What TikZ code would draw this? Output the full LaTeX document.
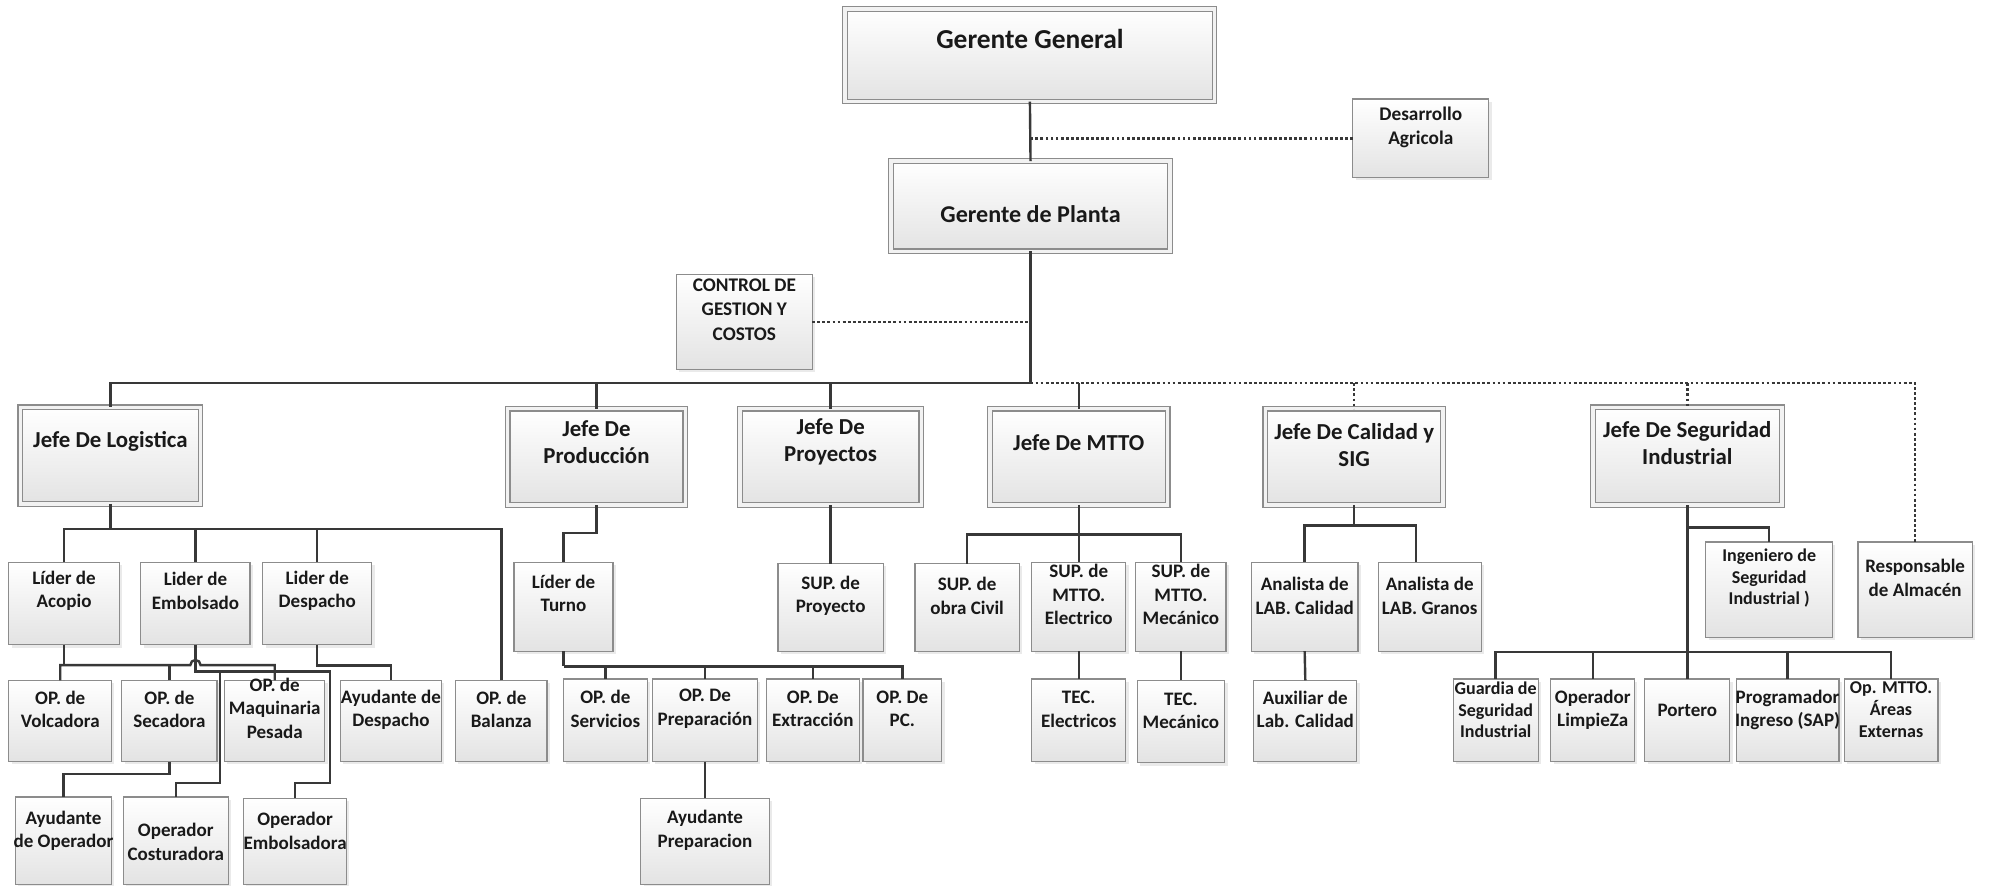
\documentclass[tikz,border=0pt]{standalone}
\usepackage{fontspec}
\setmainfont{Carlito}
\usetikzlibrary{shadows,calc,fit}
\newcommand{\obox}[9]{%
  \node[#1, fit={(#4,#5)(#6,#7)}] (#3) {};
  \pgfmathsetmacro{\cxx}{(#4+#6)/2}
  \node[lbl,#2] (#3-t) at (\cxx,#8) {#9};
}
\begin{document}
\begin{tikzpicture}[x=0.5pt,y=-0.5pt,
  sbox/.style={draw=black!45, line width=0.45pt, top color=white, bottom color=black!11,
    inner sep=0pt, outer sep=0pt,
    drop shadow={shadow xshift=1.1pt, shadow yshift=-1.1pt, fill=black!16}},
  dbox/.style={sbox, double=black!5, double distance=1.4pt},
  lbl/.style={font=\bfseries\fontsize{7.5}{9.3}\selectfont, align=center, inner sep=0pt, text=black!90},
  fj/.style={font=\bfseries\fontsize{9}{10.6}\selectfont},
  fc/.style={font=\bfseries\fontsize{7.6}{9.5}\selectfont},
  fs/.style={font=\bfseries\fontsize{7.1}{8.6}\selectfont},
  conn/.style={draw=black!78, line width=0.95pt},
  dotl/.style={draw=black!78, line width=0.95pt, dash pattern=on 1.1pt off 0.9pt}]
\fill[white] (0,0) rectangle (1568,698);
\useasboundingbox (0,0) rectangle (1568,698);

% top level
\obox{dbox}{font=\bfseries\fontsize{10.8}{13}\selectfont}{gg}{666}{7}{957}{80}{31}{Gerente General}
\obox{sbox}{fc}{des}{1066}{78}{1173}{140}{100}{Desarrollo\\Agricola}
\obox{dbox}{font=\bfseries\fontsize{9.5}{11.3}\selectfont}{gp}{702}{127}{922}{198}{169}{Gerente de Planta}
\obox{sbox}{fc}{ctl}{533}{216}{640}{291}{244}{CONTROL DE\\GESTION Y\\COSTOS}

% jefes
\obox{dbox}{fj}{jl}{16}{321}{158}{397}{348}{Jefe De Logistica}
\obox{dbox}{fj}{jp}{400}{322}{540}{398}{348.5}{Jefe De\\Producción}
\obox{dbox}{fj}{jproy}{583}{322}{726}{398}{348.5}{Jefe De\\Proyectos}
\obox{dbox}{fj}{jmtto}{780}{322}{920}{398}{349}{Jefe De MTTO}
\obox{dbox}{fj}{jcal}{997}{322}{1137}{398}{351}{Jefe De Calidad y\\SIG}
\obox{dbox}{fj}{jseg}{1255}{321}{1404}{398}{349.3}{Jefe De Seguridad\\Industrial}

% logistica
\obox{sbox}{}{acop}{7}{443}{94}{508}{465.5}{Líder de\\Acopio}
\obox{sbox}{}{emb}{111}{443}{197}{508}{465.5}{Lider de\\Embolsado}
\obox{sbox}{}{desp}{207}{443}{293}{508}{465.5}{Lider de\\Despacho}
\obox{sbox}{}{volc}{7}{536}{88}{600}{558.8}{OP. de\\Volcadora}
\obox{sbox}{}{sec}{96}{536}{171}{600}{558.8}{OP. de\\Secadora}
\obox{sbox}{}{maq}{177}{536}{256}{600}{558}{OP. de\\Maquinaria\\Pesada}
\obox{sbox}{}{aydesp}{268}{536}{348}{600}{559.4}{Ayudante de\\Despacho}
\obox{sbox}{}{bal}{359}{536}{431}{600}{559}{OP. de\\Balanza}
\obox{sbox}{}{ayop}{12}{628}{88}{697}{654.5}{Ayudante\\de Operador}
\obox{sbox}{}{cost}{97}{628}{180}{697}{663.5}{Operador\\Costuradora}
\obox{sbox}{}{embo}{192}{629}{273}{697}{654.5}{Operador\\Embolsadora}

% produccion
\obox{sbox}{}{turno}{405}{443}{483}{513}{467.5}{Líder de\\Turno}
\obox{sbox}{}{serv}{444}{535}{510}{600}{558.5}{OP. de\\Servicios}
\obox{sbox}{}{prep}{514}{535}{597}{600}{558.5}{OP. De\\Preparación}
\obox{sbox}{}{extr}{604}{535}{677}{600}{558.5}{OP. De\\Extracción}
\obox{sbox}{}{pc}{680}{535}{742}{600}{558.5}{OP. De\\PC.}
\obox{sbox}{}{ayprep}{505}{629}{606}{697}{654}{Ayudante\\Preparacion}

% proyectos
\obox{sbox}{}{supproy}{613}{444}{696}{513}{469.5}{SUP. de\\Proyecto}

% mtto
\obox{sbox}{}{civil}{721}{444}{803}{513}{469.5}{SUP. de\\obra Civil}
\obox{sbox}{}{elec}{813}{443}{887}{513}{468.5}{SUP. de\\MTTO.\\Electrico}
\obox{sbox}{}{mec}{895}{443}{966}{513}{468.5}{SUP. de\\MTTO.\\Mecánico}
\obox{sbox}{}{tecel}{813}{535}{887}{600}{559}{TEC.\\Electricos}
\obox{sbox}{}{tecmec}{896}{536}{965}{601}{560}{TEC.\\Mecánico}

% calidad
\obox{sbox}{}{anacal}{986}{443}{1070}{513}{469.5}{Analista de\\LAB. Calidad}
\obox{sbox}{}{anagr}{1086}{443}{1167}{513}{469.5}{Analista de\\LAB. Granos}
\obox{sbox}{}{aux}{988}{536}{1069}{600}{559}{Auxiliar de\\Lab. Calidad}

% seguridad
\obox{sbox}{fs}{ing}{1344}{427}{1444}{502}{455.5}{Ingeniero de\\Seguridad\\Industrial )}
\obox{sbox}{}{resp}{1464}{427}{1554}{502}{455.3}{Responsable\\de Almacén}
\obox{sbox}{fs}{guard}{1145}{535}{1212}{600}{559.3}{Guardia de\\Seguridad\\Industrial}
\obox{sbox}{}{limp}{1222}{535}{1288}{600}{559.3}{Operador\\LimpieZa}
\obox{sbox}{}{port}{1296}{535}{1363}{600}{559.5}{Portero}
\obox{sbox}{}{prog}{1368}{535}{1449}{600}{559.3}{Programador\\Ingreso (SAP)}
\obox{sbox}{fs}{opm}{1453}{535}{1527}{600}{559.3}{Op. MTTO.\\Áreas\\Externas}

% ---------- connectors ----------
\coordinate (mb) at (812,302);
\draw[conn] (gg.south) -- (gp.north);
\draw[dotl] (des.west) -- (des.west -| gg.south);
\draw[conn] (gp.south) -- (mb);
\draw[dotl] (ctl.east) -- (ctl.east -| mb);
\draw[conn] (mb) -| (jl.north);
\draw[conn] (mb) -| (jp.north);
\draw[conn] (mb) -| (jproy.north);
\draw[conn] (jmtto.north |- mb) -- (jmtto.north);
\draw[dotl] (mb) -| (resp.north);
\draw[dotl] (jcal.north |- mb) -- (jcal.north);
\draw[dotl] (jseg.north |- mb) -- (jseg.north);

% logistica
\coordinate (lb) at (87,417);
\draw[conn] (jl.south) -- (lb);
\draw[conn] (acop.north) |- (lb);
\draw[conn] (emb.north) |- (lb);
\draw[conn] (desp.north) |- (lb);
\draw[conn] (bal.north) |- (lb);
\coordinate (hopA) at (150,524);
\draw[conn] (acop.south) -- ++(0,16);
\draw[conn] (volc.north) |- (hopA) arc[start angle=180, end angle=0, radius=2pt] -| (maq.north);
\draw[conn] (sec.north) -- ++(0,-12);
\coordinate (eb1) at (260,529);
\coordinate (eb2) at (260,617);
\coordinate (cb1) at (173.5,529);
\coordinate (cb2) at (173.5,617);
\draw[conn] (emb.south) |- (eb1) -- (eb2) -| (embo.north);
\draw[conn] (cb1) -- (cb2) -| (cost.north);
\draw[conn] (sec.south) -- ++(0,10) -| (ayop.north);
\draw[conn] (desp.south) -- ++(0,16.5) -| (aydesp.north);

% produccion
\draw[conn] (jp.south) -- ++(0,22) -| (turno.north);
\coordinate (tb) at (444,525);
\draw[conn] (turno.south) -- (tb);
\draw[conn] (tb) -| (serv.north);
\draw[conn] (tb) -| (prep.north);
\draw[conn] (tb) -| (extr.north);
\draw[conn] (tb) -| (pc.north);
\draw[conn] (prep.south) -- (ayprep.north);

% proyectos
\draw[conn] (jproy.south) -- (supproy.north);

% mtto
\coordinate (mt) at (850,421);
\draw[conn] (jmtto.south) -- (mt);
\draw[conn] (mt) -| (civil.north);
\draw[conn] (mt) -| (elec.north);
\draw[conn] (mt) -| (mec.north);
\draw[conn] (elec.south) -- (tecel.north);
\draw[conn] (mec.south) -- (tecmec.north);

% calidad
\coordinate (cq) at (1067,414);
\draw[conn] (jcal.south) -- (cq);
\draw[conn] (cq) -| (anacal.north);
\draw[conn] (cq) -| ($(anagr.north)+(-11,0)$);
\draw[conn] (anacal.south) -- (aux.north);

% seguridad
\coordinate (sb) at (1329.5,513.5);
\draw[conn] (jseg.south) -- (sb);
\draw[conn] (jseg.south) ++(0,17.5) -| (ing.north);
\draw[conn] (sb) -| (guard.north);
\draw[conn] (sb) -| (limp.north);
\draw[conn] (sb) -| (port.north);
\draw[conn] (sb) -| (prog.north);
\draw[conn] (sb) -| (opm.north);
\end{tikzpicture}
\end{document}
